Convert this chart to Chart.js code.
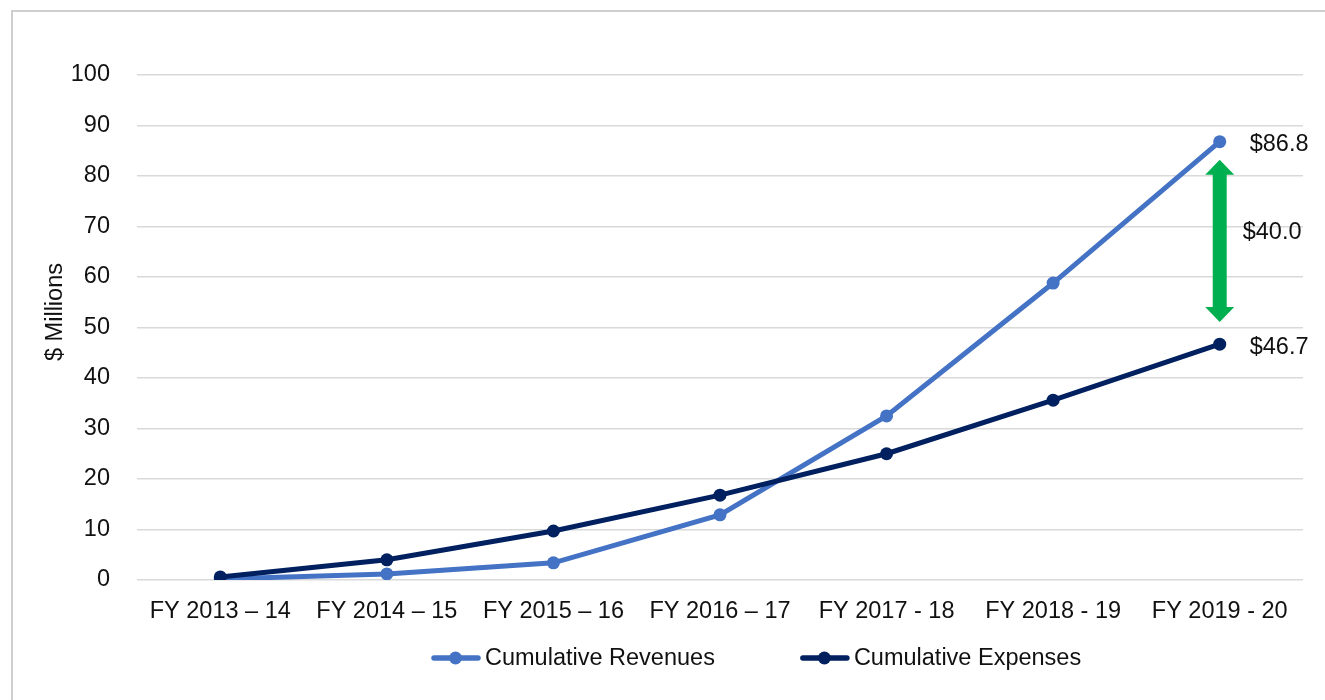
<!DOCTYPE html>
<html>
<head>
<meta charset="utf-8">
<script src="https://cdn.jsdelivr.net/npm/chart.js@4/dist/chart.umd.min.js"></script>
<style>
  html, body { margin: 0; padding: 0; background: #fff; }
  #wrap { width: 1325px; height: 700px; }
</style>
</head>
<body>
<div id="wrap"><canvas id="cumChart" width="1325" height="700"></canvas></div>
<script>
// chart data
const categories = ["FY 2013 \u2013 14", "FY 2014 \u2013 15", "FY 2015 \u2013 16", "FY 2016 \u2013 17", "FY 2017 - 18", "FY 2018 - 19", "FY 2019 - 20"];
const revenues = [0.2, 1.2, 3.4, 12.9, 32.5, 58.8, 86.8];
const expenses = [0.6, 4.0, 9.7, 16.8, 25.0, 35.6, 46.7];
const yTicks = [0, 10, 20, 30, 40, 50, 60, 70, 80, 90, 100];
const yTitle = "$ Millions";

// green gap arrow (value range) and its label
const arrowTop = 83.2;
const arrowBottom = 51.1;
const gapLabel = "$40.0";

const FONT = "'Liberation Sans', Arial, sans-serif";
const FSIZE = 23.5;
const TEXT = "#111";
const REV_COLOR = "#4472C4";
const EXP_COLOR = "#002060";

Chart.defaults.font.family = FONT;
Chart.defaults.font.size = FSIZE;
Chart.defaults.color = TEXT;

// frame round the chart + y axis title
const framePlugin = {
    id: "frame",
    beforeDraw(chart) {
        const ctx = chart.ctx;
        ctx.save();
        ctx.strokeStyle = "#cfcfcf";
        ctx.lineWidth = 2;
        ctx.strokeRect(12, 11, 2000, 2000);
        ctx.translate(56, 312);
        ctx.rotate(-Math.PI / 2);
        ctx.font = FSIZE + "px " + FONT;
        ctx.fillStyle = TEXT;
        ctx.textAlign = "center";
        ctx.textBaseline = "middle";
        ctx.fillText(yTitle, 0, 0);
        ctx.restore();
    }
};

// arrow + value labels at the last category
const gapPlugin = {
    id: "gap",
    afterDatasetsDraw(chart) {
        const ctx = chart.ctx;
        const xs = chart.scales.x;
        const ys = chart.scales.y;
        const last = categories.length - 1;
        const x = xs.getPixelForValue(last);
        const yTop = ys.getPixelForValue(arrowTop);
        const yBot = ys.getPixelForValue(arrowBottom);
        const headH = 15, headW = 14.5, shaftW = 7;

        ctx.save();
        ctx.fillStyle = "#00B050";
        ctx.beginPath();
        ctx.moveTo(x, yTop);
        ctx.lineTo(x + headW, yTop + headH);
        ctx.lineTo(x + shaftW, yTop + headH);
        ctx.lineTo(x + shaftW, yBot - headH);
        ctx.lineTo(x + headW, yBot - headH);
        ctx.lineTo(x, yBot);
        ctx.lineTo(x - headW, yBot - headH);
        ctx.lineTo(x - shaftW, yBot - headH);
        ctx.lineTo(x - shaftW, yTop + headH);
        ctx.lineTo(x - headW, yTop + headH);
        ctx.closePath();
        ctx.fill();

        ctx.fillStyle = TEXT;
        ctx.font = FSIZE + "px " + FONT;
        ctx.textAlign = "left";
        ctx.textBaseline = "middle";
        ctx.fillText("$" + revenues[last].toFixed(1), x + 30, ys.getPixelForValue(revenues[last]) + 3);
        ctx.fillText("$" + expenses[last].toFixed(1), x + 30, ys.getPixelForValue(expenses[last]) + 3);
        ctx.fillText(gapLabel, x + 23, (yTop + yBot) / 2 - 8);
        ctx.restore();
    }
};

// legend drawn as line + dot markers
const legendPlugin = {
    id: "lineLegend",
    afterDraw(chart) {
        const ctx = chart.ctx;
        const items = [chart.data.datasets[0], chart.data.datasets[1]];
        let x = 431;
        const y = 658;
        ctx.save();
        ctx.font = FSIZE + "px " + FONT;
        ctx.textBaseline = "middle";
        ctx.textAlign = "left";
        items.forEach(ds => {
            ctx.strokeStyle = ds.borderColor;
            ctx.lineWidth = 5.5;
            ctx.lineCap = "round";
            ctx.beginPath();
            ctx.moveTo(x + 3, y);
            ctx.lineTo(x + 47, y);
            ctx.stroke();
            ctx.fillStyle = ds.borderColor;
            ctx.beginPath();
            ctx.arc(x + 24.5, y, 6.5, 0, Math.PI * 2);
            ctx.fill();
            ctx.fillStyle = TEXT;
            ctx.fillText(ds.label, x + 54, y + 1);
            x += 54 + ctx.measureText(ds.label).width + 85;
        });
        ctx.restore();
    }
};

const ctx = document.getElementById("cumChart").getContext("2d");
const cumChart = new Chart(ctx, {
    type: "line",
    data: {
        labels: categories,
        datasets: [
            {
                label: "Cumulative Revenues",
                data: revenues,
                borderColor: REV_COLOR,
                backgroundColor: REV_COLOR,
                borderWidth: 5,
                pointRadius: 6.5,
                pointHoverRadius: 6.5,
                pointBorderWidth: 0,
                tension: 0,
                order: 1
            },
            {
                label: "Cumulative Expenses",
                data: expenses,
                borderColor: EXP_COLOR,
                backgroundColor: EXP_COLOR,
                borderWidth: 5,
                pointRadius: 6.5,
                pointHoverRadius: 6.5,
                pointBorderWidth: 0,
                tension: 0,
                order: 0
            }
        ]
    },
    options: {
        responsive: false,
        devicePixelRatio: 1,
        animation: false,
        events: [],
        layout: {
            padding: { left: 36, right: 22, top: 75, bottom: 80 }
        },
        plugins: {
            legend: { display: false },
            tooltip: { enabled: false }
        },
        scales: {
            x: {
                offset: true,
                grid: { display: false, drawTicks: false },
                border: { display: false },
                ticks: { padding: 17, maxRotation: 0, autoSkip: false, color: TEXT },
                afterFit: (scale) => { scale.height = 40; }
            },
            y: {
                min: 0,
                max: 100,
                afterBuildTicks: (scale) => { scale.ticks = yTicks.map(v => ({ value: v })); },
                grid: { color: "#d9d9d9", lineWidth: 1.5, drawTicks: false },
                border: { display: false },
                ticks: { padding: 27, color: TEXT },
                afterFit: (scale) => { scale.width = 101; }
            }
        }
    },
    plugins: [framePlugin, gapPlugin, legendPlugin]
});
</script>
</body>
</html>
